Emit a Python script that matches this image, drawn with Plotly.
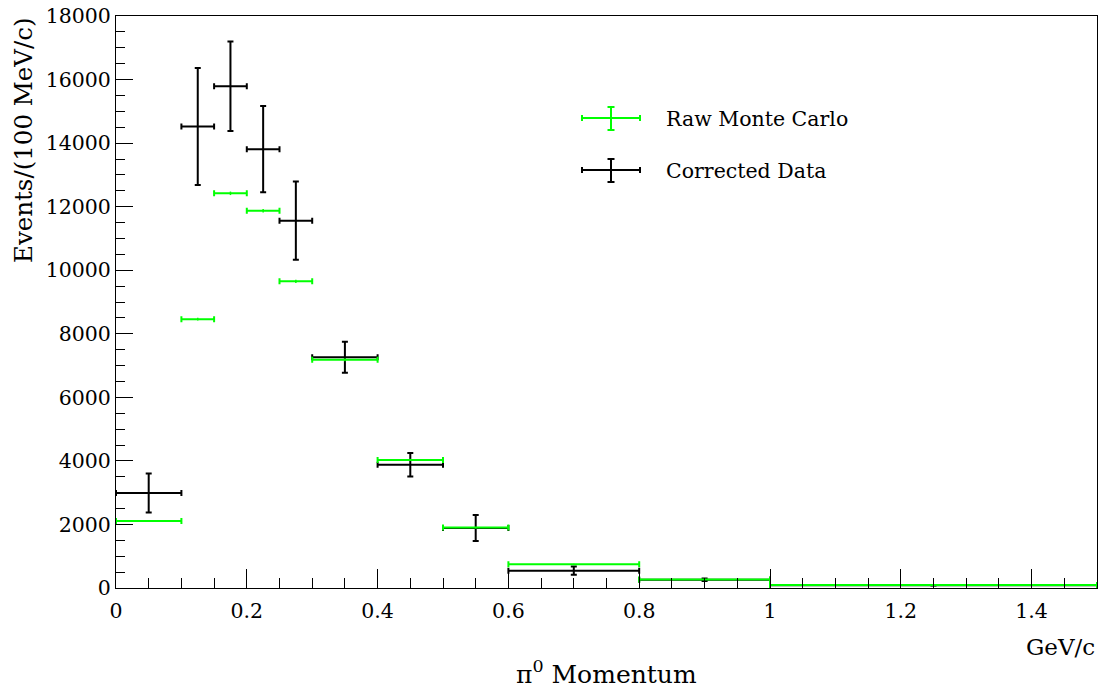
import plotly.graph_objects as go

# bin edges (GeV/c)
bin_lo = [0.0, 0.10, 0.15, 0.20, 0.25, 0.30, 0.40, 0.50, 0.60, 0.80, 1.00]
bin_hi = [0.10, 0.15, 0.20, 0.25, 0.30, 0.40, 0.50, 0.60, 0.80, 1.00, 1.50]

# Raw Monte Carlo
mc_vals = [2110, 8460, 12420, 11870, 9650, 7180, 4030, 1900, 745, 270, 95]
mc_errs = [25, 45, 55, 55, 50, 45, 35, 25, 15, 10, 5]

# Corrected Data
data_vals = [2990, 14520, 15790, 13810, 11560, 7260, 3880, 1890, 545, 260, 85]
data_errs = [615, 1840, 1410, 1360, 1230, 490, 370, 410, 130, 40, 8]

centers = [(a + b) / 2 for a, b in zip(bin_lo, bin_hi)]
halfw = [(b - a) / 2 for a, b in zip(bin_lo, bin_hi)]

GREEN = "#00ff00"
BLACK = "#000000"
FONT = "DejaVu Serif"

fig = go.Figure()
fig.add_trace(go.Scatter(
    x=centers, y=data_vals, mode="markers",
    marker=dict(size=0, color=BLACK, opacity=0),
    error_x=dict(type="data", array=halfw, color=BLACK, thickness=2, width=3),
    error_y=dict(type="data", array=data_errs, color=BLACK, thickness=2, width=3),
    showlegend=False, name="Corrected Data"))
fig.add_trace(go.Scatter(
    x=centers, y=mc_vals, mode="markers",
    marker=dict(size=0, color=GREEN, opacity=0),
    error_x=dict(type="data", array=halfw, color=GREEN, thickness=2, width=3),
    error_y=dict(type="data", array=mc_errs, color=GREEN, thickness=1.5, width=0),
    showlegend=False, name="Raw Monte Carlo"))

L, R, T, B = 116, 1097, 16, 588
W, H = 1102, 689


def px(xp):
    return (xp - L) / (R - L)


def py(yp):
    return (B - yp) / (B - T)


shapes = []
ann = []
legend_items = [("Raw Monte Carlo", GREEN, 118), ("Corrected Data", BLACK, 170)]
for label, col, yc in legend_items:
    x0, x1, xm = 582, 640, 611
    shapes.append(dict(type="line", xref="paper", yref="paper", x0=px(x0), x1=px(x1),
                       y0=py(yc), y1=py(yc), line=dict(color=col, width=2)))
    for xe in (x0, x1):
        shapes.append(dict(type="line", xref="paper", yref="paper", x0=px(xe), x1=px(xe),
                           y0=py(yc - 3), y1=py(yc + 3), line=dict(color=col, width=2)))
    shapes.append(dict(type="line", xref="paper", yref="paper", x0=px(xm), x1=px(xm),
                       y0=py(yc - 11), y1=py(yc + 12), line=dict(color=col, width=2)))
    for ye in (yc - 11, yc + 12):
        shapes.append(dict(type="line", xref="paper", yref="paper", x0=px(xm - 3.5), x1=px(xm + 3.5),
                           y0=py(ye), y1=py(ye), line=dict(color=col, width=2)))
    ann.append(dict(text=label, xref="paper", yref="paper", x=px(664), y=py(yc + 1),
                    xanchor="left", yanchor="middle", showarrow=False,
                    font=dict(family=FONT, size=20.5, color="black")))

ann.append(dict(text="π<sup>0</sup> Momentum", xref="paper", yref="paper",
                x=px(606), y=py(672), xanchor="center", yanchor="middle", showarrow=False,
                font=dict(family=FONT, size=25, color="black")))
ann.append(dict(text="GeV/c", xref="paper", yref="paper",
                x=px(1097), y=py(647), xanchor="right", yanchor="middle", showarrow=False,
                font=dict(family=FONT, size=23, color="black")))
ann.append(dict(text="Events/(100 MeV/c)", xref="paper", yref="paper",
                x=px(23), y=py(15), xanchor="center", yanchor="top", textangle=-90,
                showarrow=False, font=dict(family=FONT, size=24.5, color="black")))

fig.update_layout(
    width=W, height=H,
    margin=dict(l=L, r=W - R, t=T, b=H - B, autoexpand=False),
    paper_bgcolor="white", plot_bgcolor="white",
    font=dict(family=FONT, size=20.5, color="black"),
    shapes=shapes, annotations=ann,
    xaxis=dict(range=[0, 1.5], dtick=0.2, tick0=0, ticks="inside", ticklen=19,
               tickcolor="black", tickwidth=1, showgrid=False, zeroline=False,
               showline=True, linecolor="black", linewidth=1, mirror=True,
               ticklabelstandoff=4,
               tickformat="~g", tickfont=dict(family=FONT, size=20.5),
               minor=dict(dtick=0.05, tick0=0, ticks="inside", ticklen=10,
                          tickcolor="black", tickwidth=1, showgrid=False)),
    yaxis=dict(range=[0, 18000], dtick=2000, tick0=0, ticks="inside", ticklen=17,
               tickcolor="black", tickwidth=1, showgrid=False, zeroline=False,
               showline=True, linecolor="black", linewidth=1, mirror=True,
               tickformat="d", tickfont=dict(family=FONT, size=20.5),
               minor=dict(dtick=500, tick0=0, ticks="inside", ticklen=9,
                          tickcolor="black", tickwidth=1, showgrid=False)),
)

fig.write_html("out.html")
